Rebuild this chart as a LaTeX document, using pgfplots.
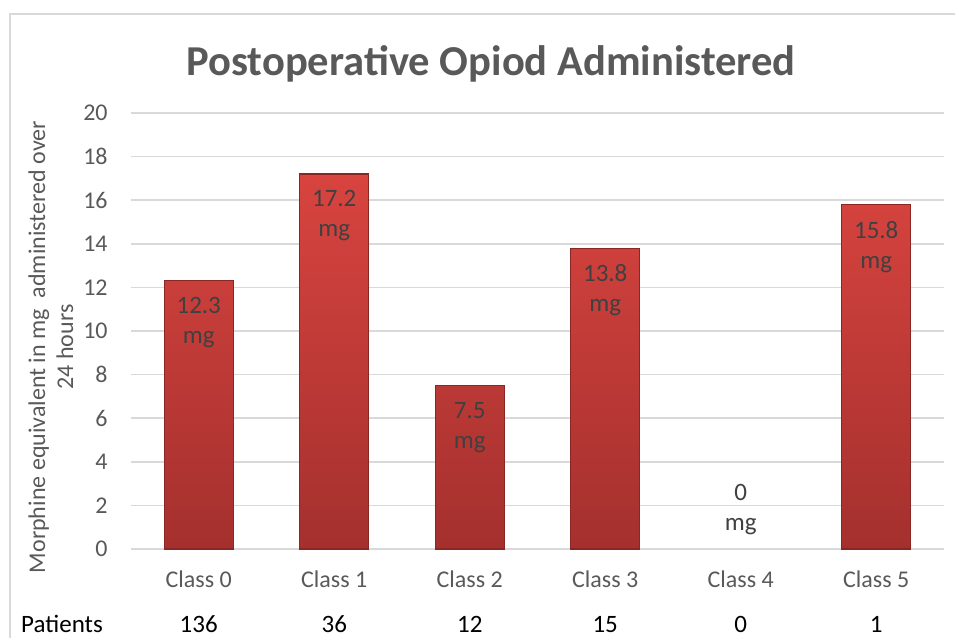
\documentclass[border=0pt]{standalone}
\usepackage{pgfplots}
\pgfplotsset{compat=1.18}
\usepackage{fontspec}
\setmainfont{Carlito}
\definecolor{txt}{HTML}{595959}
\definecolor{gridc}{HTML}{D9D9D9}
\definecolor{bartop}{HTML}{D8443F}
\definecolor{barbot}{HTML}{A4302E}
\definecolor{baredge}{HTML}{8A2624}
\definecolor{lbl}{HTML}{404040}
\begin{document}
\begin{tikzpicture}
\path[use as bounding box] (0,0) rectangle (477.5pt,319pt);
\draw[gridc, line width=0.75pt] (5pt,-5pt) -- (5pt,312pt) -- (490pt,312pt);
\begin{axis}[
  at={(65.5pt,44.5pt)}, anchor=south west,
  scale only axis, width=406.5pt, height=218pt,
  xmin=-0.5, xmax=5.5, ymin=0, ymax=20,
  ytick={0,2,...,20},
  xtick={0,1,2,3,4,5},
  xticklabels={Class 0,Class 1,Class 2,Class 3,Class 4,Class 5},
  major tick length=0pt,
  axis line style={draw=none},
  ymajorgrids, grid style={gridc, line width=0.75pt},
  /pgf/number format/assume math mode=true,
  tick label style={font=\fontsize{12}{14}\selectfont, text=txt},
  yticklabel style={anchor=east, inner sep=0pt, xshift=-11.5pt},
  xticklabel style={anchor=center, inner sep=0pt, yshift=-15pt},
  clip=false,
  ybar, bar width=34.5pt, bar shift=0pt,
]
\addplot[draw=baredge, line width=0.6pt, top color=bartop, bottom color=barbot,
  nodes near coords={\pgfmathprintnumber{\pgfplotspointmeta}\\mg},
  nodes near coords style={anchor=north, align=center, inner sep=0pt, yshift=-8pt,
    font=\fontsize{12.5}{15}\selectfont, text=lbl}]
  coordinates {(0,12.3) (1,17.2) (2,7.5) (3,13.8) (5,15.8)};
\addplot[draw=none, fill=none,
  nodes near coords={\pgfmathprintnumber{\pgfplotspointmeta}\\mg},
  nodes near coords style={anchor=south, align=center, inner sep=0pt, yshift=7pt,
    font=\fontsize{12.5}{15}\selectfont, text=lbl}]
  coordinates {(4,0)};
\node[font=\fontsize{12.5}{15}\selectfont, text=black, inner sep=0pt, anchor=base, yshift=-41.8pt] at (axis cs:0,0) {136};
\node[font=\fontsize{12.5}{15}\selectfont, text=black, inner sep=0pt, anchor=base, yshift=-41.8pt] at (axis cs:1,0) {36};
\node[font=\fontsize{12.5}{15}\selectfont, text=black, inner sep=0pt, anchor=base, yshift=-41.8pt] at (axis cs:2,0) {12};
\node[font=\fontsize{12.5}{15}\selectfont, text=black, inner sep=0pt, anchor=base, yshift=-41.8pt] at (axis cs:3,0) {15};
\node[font=\fontsize{12.5}{15}\selectfont, text=black, inner sep=0pt, anchor=base, yshift=-41.8pt] at (axis cs:4,0) {0};
\node[font=\fontsize{12.5}{15}\selectfont, text=black, inner sep=0pt, anchor=base, yshift=-41.8pt] at (axis cs:5,0) {1};
\end{axis}
\node[font=\fontsize{12.5}{15}\selectfont, text=black, inner sep=0pt, anchor=base] at (31pt,2.7pt) {Patients};
\node[rotate=90, align=center, font=\fontsize{12}{14}\selectfont, text=txt] at (25.5pt,145.5pt)
  {Morphine equivalent in mg\ \ administered over\\24 hours};
\node[font=\bfseries\fontsize{21.3}{25}\selectfont, text=txt] at (245.5pt,287pt)
  {Postoperative Opiod Administered};
\end{tikzpicture}
\end{document}
